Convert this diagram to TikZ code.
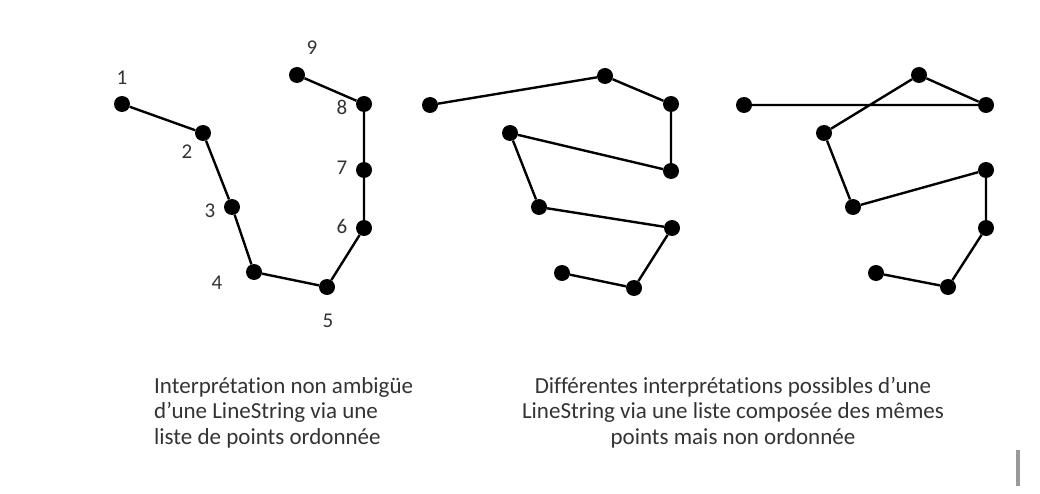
\documentclass[tikz,border=0pt]{standalone}
\usepackage{fontspec}
\setmainfont[Ligatures=NoCommon]{Carlito}
\usepackage{tikz}
\usetikzlibrary{positioning}
\usepackage{xcolor}
\definecolor{txtgray}{HTML}{333333}

\tikzset{
  pt/.style={circle, fill=black, inner sep=0pt, minimum size=16pt},
  seg/.style={line width=2.4pt, black},
  num/.style={font=\fontsize{21}{21}\selectfont, text=txtgray},
  caption/.style={font=\fontsize{23}{25.5}\selectfont, text=txtgray},
}

\begin{document}
\begin{tikzpicture}[x=1pt, y=-1pt]
  \useasboundingbox (0,0) rectangle (1040,494);

  % ordered points
  \node[pt] (p1) at (122,104) {};
  \node[pt] (p2) at (203,133) {};
  \node[pt] (p3) at (232,207) {};
  \node[pt] (p4) at (254,272) {};
  \node[pt] (p5) at (327,287) {};
  \node[pt] (p6) at (364,228) {};
  \node[pt] (p7) at (364,170) {};
  \node[pt] (p8) at (364,104) {};
  \node[pt] (p9) at (297,75) {};
  \node[num] (n1) at (122,78) {1};
  \node[num] (n2) at (187,152) {2};
  \node[num] (n3) at (210,211) {3};
  \node[num] (n4) at (217,283) {4};
  \node[num] (n5) at (328,321) {5};
  \node[num] (n6) at (342,226) {6};
  \node[num] (n7) at (342,168) {7};
  \node[num] (n8) at (342,107) {8};
  \node[num] (n9) at (312,48) {9};
  \draw[seg] (p1) -- (p2) -- (p3) -- (p4) -- (p5) -- (p6) -- (p7) -- (p8) -- (p9);

  % first other reading
  \node[pt] (a1) at (430,105) {};
  \node[pt] (a2) at (605,76) {};
  \node[pt] (a3) at (671,104) {};
  \node[pt] (a4) at (671,171) {};
  \node[pt] (a5) at (510,133) {};
  \node[pt] (a6) at (539,207) {};
  \node[pt] (a7) at (672,228) {};
  \node[pt] (a8) at (634,288) {};
  \node[pt] (a9) at (562,273) {};
  \draw[seg] (a1) -- (a2) -- (a3) -- (a4) -- (a5) -- (a6) -- (a7) -- (a8) -- (a9);

  % second other reading
  \node[pt] (b1) at (744,105) {};
  \node[pt] (b2) at (919,75) {};
  \node[pt] (b3) at (986,105) {};
  \node[pt] (b4) at (986,170) {};
  \node[pt] (b5) at (824,133) {};
  \node[pt] (b6) at (853,207) {};
  \node[pt] (b7) at (986,228) {};
  \node[pt] (b8) at (948,287) {};
  \node[pt] (b9) at (876,273) {};
  \draw[seg] (b1) -- (b3) -- (b2) -- (b5) -- (b6) -- (b4) -- (b7) -- (b8) -- (b9);

  % captions
  \node[caption, align=left, anchor=north west, inner sep=0pt] (capl) at (154,377)
    {Interprétation non ambigüe\\d’une LineString via une\\liste de points ordonnée};
  \node[caption, align=center, anchor=north, inner sep=0pt] (capr) at (733,377)
    {Différentes interprétations possibles d’une\\LineString via une liste composée des mêmes\\points mais non ordonnée};

  \fill[gray!80] (1016,450) rectangle (1020,486);
\end{tikzpicture}
\end{document}
